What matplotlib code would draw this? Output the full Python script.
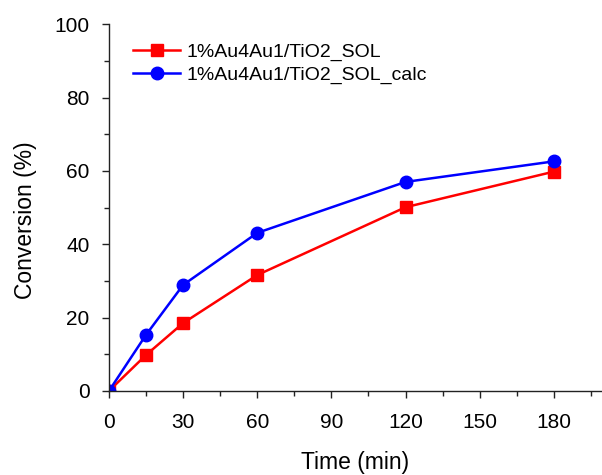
import matplotlib
matplotlib.use("Agg")
import matplotlib.pyplot as plt
from matplotlib.ticker import MultipleLocator

plt.rcParams['font.family'] = ['Liberation Sans', 'DejaVu Sans']

# reaction time (min) and conversion (%)
time_min = [0, 15, 30, 60, 120, 180]
conv_sol = [0, 9.8, 18.5, 31.6, 50.1, 59.8]
conv_calc = [0, 15.3, 28.9, 43.1, 57.0, 62.6]
labels = ["1%Au4Au1/TiO2_SOL", "1%Au4Au1/TiO2_SOL_calc"]

fig = plt.figure(figsize=(6.02, 4.75), dpi=100)
ax = fig.add_axes([0.181, 0.177, 0.817, 0.772])

ax.plot(time_min, conv_sol, color="#ff0000", marker="s", ms=8, lw=1.8, label=labels[0])
ax.plot(time_min, conv_calc, color="#0000ff", marker="o", ms=9, lw=1.8, label=labels[1])

ax.set_xlim(0, 199)
ax.set_ylim(0, 100)
ax.xaxis.set_major_locator(MultipleLocator(30))
ax.xaxis.set_minor_locator(MultipleLocator(15))
ax.yaxis.set_major_locator(MultipleLocator(20))
ax.yaxis.set_minor_locator(MultipleLocator(10))

for side in ["top", "right"]:
    ax.spines[side].set_visible(False)
for side in ["left", "bottom"]:
    ax.spines[side].set_linewidth(1.0)
    ax.spines[side].set_color("#222222")

ax.tick_params(which="major", direction="out", length=5, width=1, labelsize=15,
               colors="#222222", labelcolor="black")
ax.tick_params(which="minor", direction="out", length=3.5, width=1, colors="#222222")
ax.tick_params(axis="y", which="major", pad=9)
ax.tick_params(axis="x", which="major", pad=11)

ax.set_xlabel("Time (min)", fontsize=16.5)
ax.set_ylabel("Conversion (%)", fontsize=16.5)
ax.xaxis.set_label_coords(0.5, -0.163)
ax.yaxis.set_label_coords(-0.146, 0.465)

ax.legend(loc="upper left", bbox_to_anchor=(0.022, 0.985), frameon=False, fontsize=14,
          handlelength=2.4, handletextpad=0.35, labelspacing=0.25, borderaxespad=0.3)

fig.savefig("out.png", dpi=100)
